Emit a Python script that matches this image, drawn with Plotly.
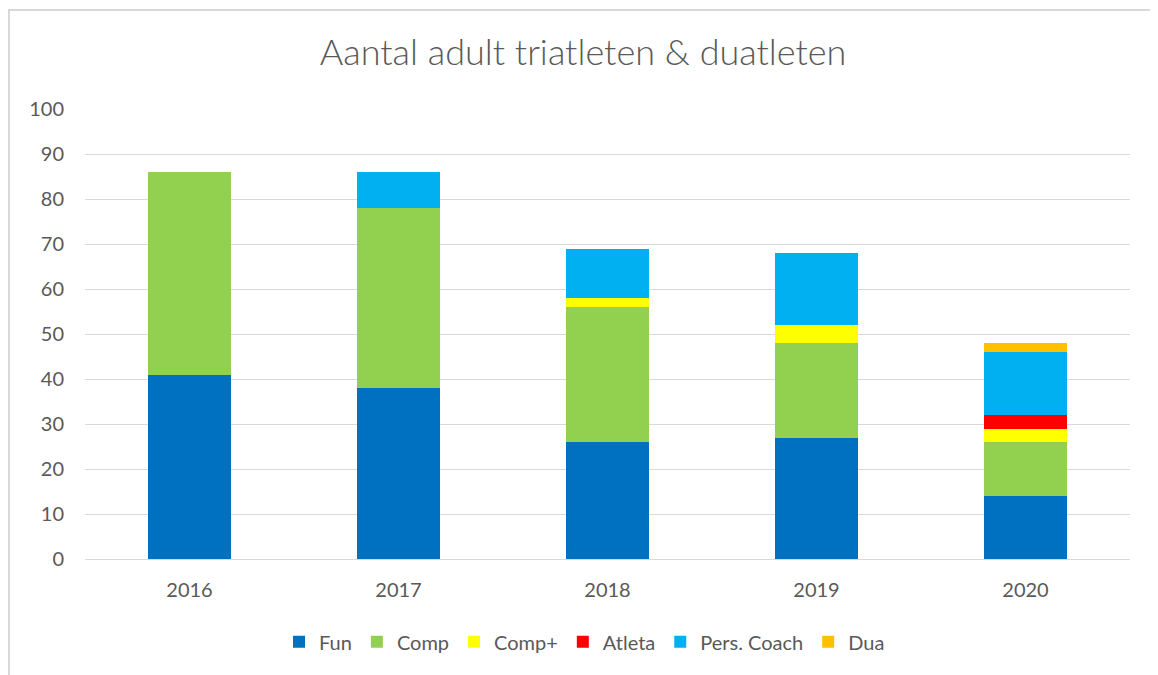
import plotly.graph_objects as go

years = ["2016", "2017", "2018", "2019", "2020"]
fun = [41, 38, 26, 27, 14]
comp = [45, 40, 30, 21, 12]
comp_plus = [0, 0, 2, 4, 3]
atleta = [0, 0, 0, 0, 3]
pers_coach = [0, 8, 11, 16, 14]
dua = [0, 0, 0, 0, 2]

series = [
    ("Fun", fun, "#0070C0"),
    ("Comp", comp, "#92D050"),
    ("Comp+", comp_plus, "#FFFF00"),
    ("Atleta", atleta, "#FF0000"),
    ("Pers. Coach", pers_coach, "#00B0F0"),
    ("Dua", dua, "#FFC000"),
]

fig = go.Figure()
for name, vals, col in series:
    fig.add_trace(go.Bar(x=years, y=vals, name=name, marker=dict(color=col, line=dict(width=0)), width=0.4))

font = "Lato, 'Open Sans', sans-serif"
fig.update_layout(
    barmode="stack",
    width=1150, height=667,
    margin=dict(l=77, r=28, t=101, b=116),
    paper_bgcolor="white", plot_bgcolor="white",
    font=dict(family=font, size=20, color="#595959"),
    title=dict(text="Aantal adult triatleten & duatleten", x=0.5, xanchor="center",
               y=0.934, yanchor="middle", font=dict(size=36, color="#595959", family=font, weight=300)),
    xaxis=dict(showline=True, linecolor="#d9d9d9", linewidth=1, ticks="", tickfont=dict(size=20),
               ticklabelstandoff=13),
    yaxis=dict(range=[0, 100], dtick=10, showgrid=True, gridcolor="#d9d9d9", gridwidth=1,
               zeroline=False, tickfont=dict(size=20), ticklabelstandoff=20),
    legend=dict(orientation="h", x=0.478, xanchor="center", y=-0.184, yanchor="middle",
                font=dict(size=20), traceorder="normal", itemwidth=30),
    bargap=0.6,
    shapes=[
        dict(type="line", xref="paper", yref="paper", x0=-77/1045, x1=(1150-77)/1045,
             y0=1 + 99/450, y1=1 + 99/450, line=dict(color="#d9d9d9", width=2)),
        dict(type="line", xref="paper", yref="paper", x0=-76/1045, x1=-76/1045,
             y0=1 + 99/450, y1=-116/450, line=dict(color="#d9d9d9", width=2)),
    ],
)
fig.write_html("out.html")
